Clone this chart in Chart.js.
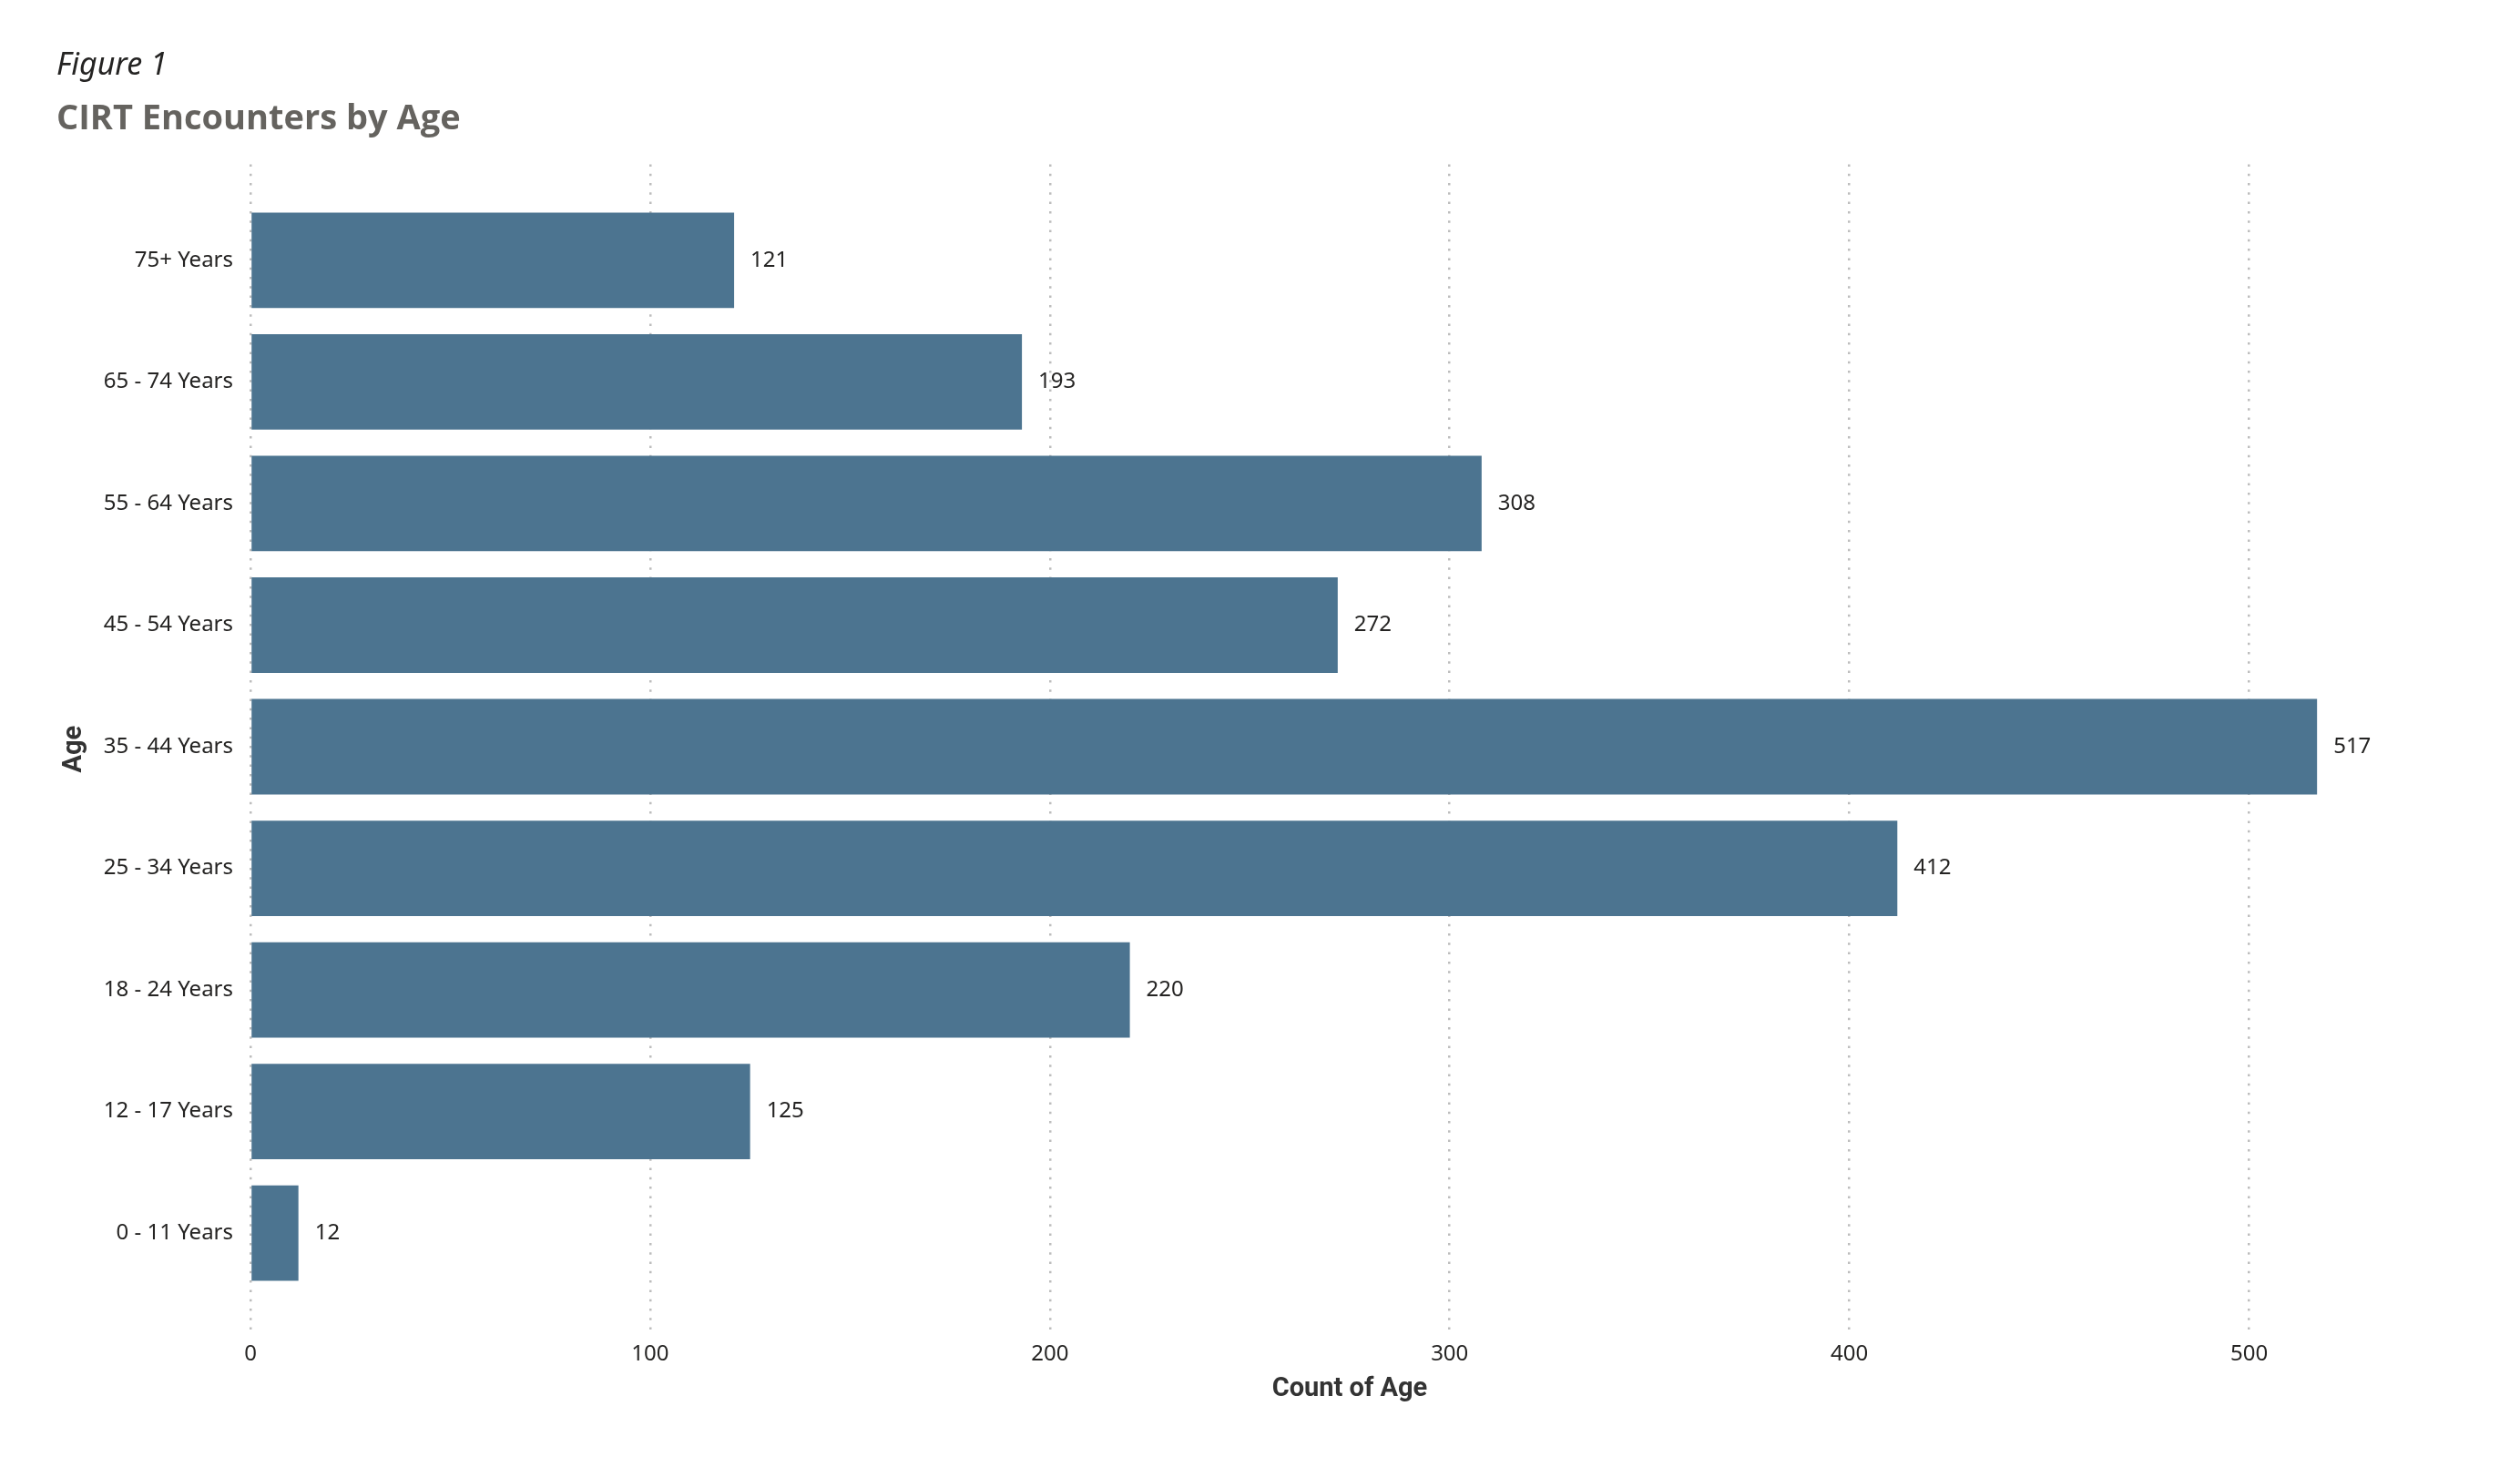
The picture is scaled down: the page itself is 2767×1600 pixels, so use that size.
<!DOCTYPE html>
<html>
<head>
<meta charset="utf-8">
<title>CIRT Encounters by Age</title>
<script src="https://cdn.jsdelivr.net/npm/chart.js@4.4.1/dist/chart.umd.min.js"></script>
<style>
  html, body { margin: 0; padding: 0; background: #fff; }
  #wrap { width: 2767px; height: 1600px; }
</style>
</head>
<body>
<div id="wrap"><canvas id="age-chart" width="2767" height="1600"></canvas></div>
<script>
// values, top bar first
const ageLabels = [
  "75+ Years", "65 - 74 Years", "55 - 64 Years", "45 - 54 Years", "35 - 44 Years",
  "25 - 34 Years", "18 - 24 Years", "12 - 17 Years", "0 - 11 Years"
];
const ageCounts = [121, 193, 308, 272, 517, 412, 220, 125, 12];
const countTicks = [0, 100, 200, 300, 400, 500];

const barColor = "#4c7490";
const textColor = "#252423";

// writes the count just past the end of each bar
const valueLabels = {
  id: "valueLabels",
  afterDatasetsDraw(chart) {
    const ctx = chart.ctx;
    const meta = chart.getDatasetMeta(0);
    ctx.save();
    ctx.font = "24px 'Noto Sans'";
    ctx.fillStyle = textColor;
    ctx.textAlign = "left";
    ctx.textBaseline = "middle";
    meta.data.forEach((bar, i) => {
      ctx.fillText(String(ageCounts[i]), bar.x + 18, bar.y);
    });
    ctx.restore();
  },
};

const ctx = document.getElementById("age-chart").getContext("2d");

new Chart(ctx, {
  type: "bar",
  data: {
    datasets: [
      {
        label: "Count of Age",
        data: ageCounts.map((v, i) => ({ x: v, y: i })),
        backgroundColor: barColor,
        borderWidth: 0,
        categoryPercentage: 1,
        barPercentage: 0.785,
      },
    ],
  },
  options: {
    indexAxis: "y",
    responsive: false,
    animation: false,
    devicePixelRatio: 1,
    layout: {
      padding: { left: 62, right: 78, top: 0, bottom: 0 },
    },
    scales: {
      x: {
        type: "linear",
        min: 0,
        max: 550,
        afterBuildTicks: (scale) => {
          scale.ticks = countTicks.map((v) => ({ value: v }));
        },
        afterFit: (scale) => {
          scale.height = 135;
        },
        ticks: {
          color: textColor,
          padding: 8,
          font: { family: "'Noto Sans'", size: 24 },
        },
        grid: {
          color: "#bdbdbd",
          lineWidth: 2.5,
          drawTicks: false,
        },
        border: { display: false, dash: [2.5, 7.8] },
        title: {
          display: true,
          text: "Count of Age",
          color: "#333333",
          padding: { top: 0, bottom: 57 },
          font: { family: "Roboto", size: 29, weight: "bold" },
        },
      },
      y: {
        type: "linear",
        reverse: true,
        offset: false,
        min: -0.79,
        max: 8.83,
        afterBuildTicks: (scale) => {
          scale.ticks = ageLabels.map((_, i) => ({ value: i }));
        },
        afterFit: (scale) => {
          scale.width = 213;
        },
        ticks: {
          color: textColor,
          padding: 19,
          autoSkip: false,
          font: { family: "'Noto Sans'", size: 24 },
          callback: (value) => ageLabels[value],
        },
        grid: { display: false, drawTicks: false, offset: false },
        border: { display: false },
        title: {
          display: true,
          text: "Age",
          color: "#333333",
          padding: { top: 2, bottom: 0 },
          font: { family: "Roboto", size: 29, weight: "bold" },
        },
      },
    },
    plugins: {
      legend: { display: false },
      tooltip: { enabled: false },
      title: {
        display: true,
        text: "Figure 1",
        align: "start",
        color: textColor,
        padding: { top: 52, bottom: 0 },
        font: { family: "'Noto Sans'", size: 34, style: "italic", weight: "normal" },
      },
      subtitle: {
        display: true,
        text: "CIRT Encounters by Age",
        align: "start",
        color: "#65635f",
        padding: { top: 16, bottom: 26 },
        font: { family: "'Open Sans'", size: 38, weight: "bold" },
      },
    },
  },
  plugins: [valueLabels],
});
</script>
</body>
</html>
